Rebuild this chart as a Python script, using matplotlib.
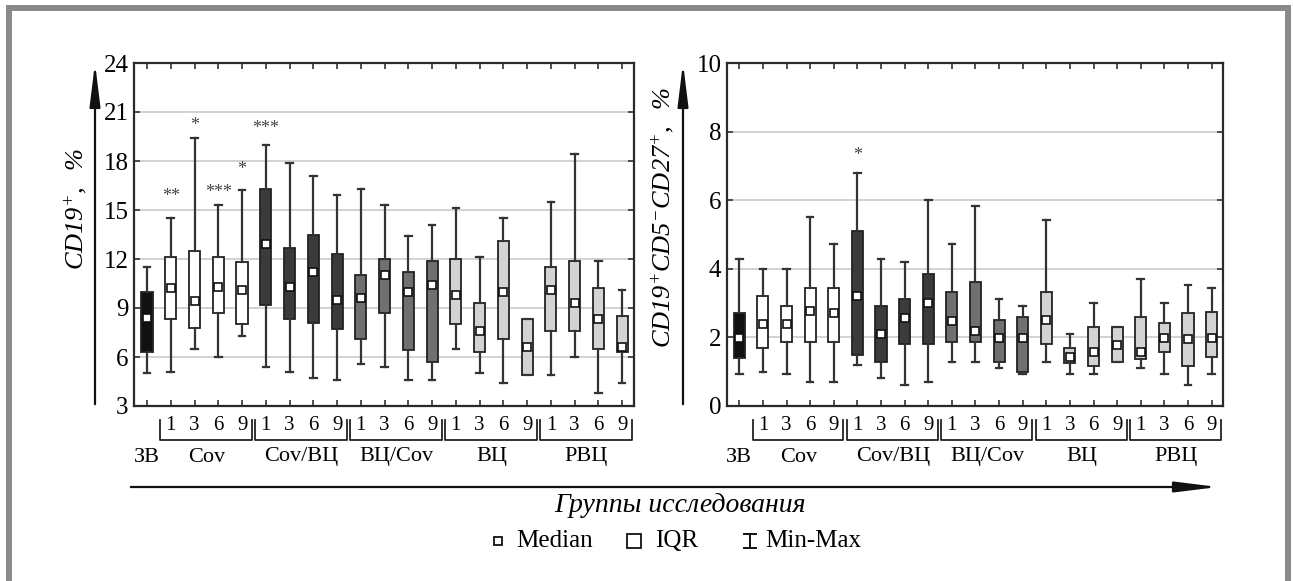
import matplotlib
matplotlib.use("Agg")
import matplotlib.pyplot as plt
from matplotlib.lines import Line2D
from matplotlib.patches import FancyArrowPatch
from matplotlib.transforms import blended_transform_factory

plt.rcParams['font.family'] = ['Liberation Serif', 'DejaVu Serif']
plt.rcParams['mathtext.fontset'] = 'custom'
plt.rcParams['mathtext.rm'] = 'Liberation Serif:italic'
plt.rcParams['mathtext.it'] = 'Liberation Serif:italic'

# ---------------- data ----------------
groups = ['ЗВ', 'Cov', 'Cov/ВЦ', 'ВЦ/Cov', 'ВЦ', 'РВЦ']
months = ['1', '3', '6', '9']
group_colors = ['#111111', '#ffffff', '#3b3b3b', '#707070', '#d3d3d3', '#d3d3d3']

# Left panel: CD19+, %
l_min = [5.0, 5.1, 6.5, 6.0, 7.3, 5.4, 5.1, 4.7, 4.6, 5.6, 5.4, 4.6, 4.6, 6.5, 5.0, 4.4, 4.9, 4.9, 6.0, 3.8, 4.4]
l_q1 = [6.3, 8.3, 7.8, 8.7, 8.0, 9.2, 8.3, 8.1, 7.7, 7.1, 8.7, 6.4, 5.7, 8.0, 6.3, 7.1, 4.9, 7.6, 7.6, 6.5, 6.3]
l_med = [8.4, 10.2, 9.4, 10.3, 10.1, 12.9, 10.3, 11.2, 9.5, 9.6, 11.0, 10.0, 10.4, 9.8, 7.6, 10.0, 6.6, 10.1, 9.3, 8.3, 6.6]
l_q3 = [10.0, 12.1, 12.5, 12.1, 11.8, 16.3, 12.7, 13.5, 12.3, 11.0, 12.0, 11.2, 11.9, 12.0, 9.3, 13.1, 8.3, 11.5, 11.9, 10.2, 8.5]
l_max = [11.5, 14.5, 19.4, 15.3, 16.2, 19.0, 17.9, 17.1, 15.9, 16.3, 15.3, 13.4, 14.1, 15.1, 12.1, 14.5, 8.3, 15.5, 18.4, 11.9, 10.1]
l_stars = {1: '**', 2: '*', 3: '***', 4: '*', 5: '***'}
l_star_y = {1: 15.8, 2: 20.2, 3: 16.1, 4: 17.5, 5: 20.0}

# Right panel: CD19+CD5-CD27+, %
r_min = [0.92, 1.0, 0.92, 0.71, 0.71, 1.19, 0.81, 0.61, 0.71, 1.29, 1.27, 1.12, 0.92, 1.27, 0.92, 0.92, 1.27, 1.12, 0.92, 0.61, 0.92]
r_q1 = [1.39, 1.7, 1.87, 1.87, 1.87, 1.49, 1.27, 1.8, 1.8, 1.87, 1.87, 1.27, 1.0, 1.8, 1.24, 1.17, 1.27, 1.37, 1.58, 1.17, 1.44]
r_med = [1.99, 2.38, 2.38, 2.78, 2.72, 3.2, 2.09, 2.58, 2.99, 2.49, 2.18, 1.99, 1.99, 2.52, 1.44, 1.56, 1.78, 1.56, 1.99, 1.94, 1.99]
r_q3 = [2.7, 3.21, 2.92, 3.43, 3.43, 5.1, 2.92, 3.12, 3.86, 3.31, 3.62, 2.5, 2.6, 3.31, 1.7, 2.29, 2.29, 2.6, 2.43, 2.7, 2.73]
r_max = [4.3, 4.0, 4.0, 5.51, 4.71, 6.8, 4.3, 4.2, 6.02, 4.71, 5.83, 3.12, 2.91, 5.42, 2.1, 3.01, 2.29, 3.69, 3.01, 3.52, 3.43]
r_stars = {5: '*'}
r_star_y = {5: 7.3}

l_yticks = [3, 6, 9, 12, 15, 18, 21, 24]
r_yticks = [0, 2, 4, 6, 8, 10]
l_ylabel = r'$\mathit{CD19}^{+}\mathit{,\ \ \%}$'
r_ylabel = r'$\mathit{CD19}^{+}\mathit{CD5}^{-}\mathit{CD27}^{+}\mathit{,\ \ \%}$'
xtitle = 'Группы исследования'
legend_labels = ['Median', 'IQR', 'Min-Max']

# ---------------- figure ----------------
W, H = 1293, 581
fig = plt.figure(figsize=(W / 100, H / 100), dpi=100)
fig.patch.set_facecolor('white')


def fx(px):
    return px / W


def fy(py):
    return 1 - py / H


box_colors = [group_colors[0]] + [c for c in group_colors[1:] for _ in months]
tick_labels = [''] + [m for _ in groups[1:] for m in months]


def panel(ax, mins, q1s, meds, q3s, maxs, yticks, stars, star_y, xlim):
    n = len(meds)
    stats = []
    for i in range(n):
        stats.append(dict(whislo=mins[i], q1=q1s[i], med=meds[i], q3=q3s[i],
                          whishi=maxs[i], mean=meds[i], fliers=[]))
    pos = list(range(n))
    bp = ax.bxp(stats, positions=pos, widths=0.47, capwidths=0.28,
                patch_artist=True, showmeans=True, showfliers=False,
                boxprops=dict(edgecolor='#222222', linewidth=1.3),
                whiskerprops=dict(color='#333333', linewidth=1.6),
                capprops=dict(color='#333333', linewidth=1.6),
                medianprops=dict(linewidth=0),
                meanprops=dict(marker='s', markerfacecolor='white',
                               markeredgecolor='#111111', markersize=5.5,
                               markeredgewidth=1.2))
    for patch, c in zip(bp['boxes'], box_colors):
        patch.set_facecolor(c)
    for i, s in stars.items():
        ax.text(pos[i], star_y[i], s, ha='center', va='center',
                fontsize=13, color='#444444')
    ax.set_xlim(*xlim)
    ax.set_ylim(yticks[0], yticks[-1])
    ax.set_yticks(yticks)
    ax.set_xticks(pos)
    ax.set_xticklabels(tick_labels, fontsize=15)
    ax.tick_params(axis='y', labelsize=18, direction='in', left=True,
                   right=True, length=4, width=1.2, pad=4, color='#333333')
    ax.tick_params(axis='x', direction='in', bottom=True, top=True,
                   length=4, width=1.2, pad=7, color='#333333')
    ax.yaxis.grid(True, color='#cfcfcf', linewidth=1.3)
    ax.set_axisbelow(True)
    for sp in ax.spines.values():
        sp.set_color('#2a2a2a')
        sp.set_linewidth(1.6)
    tr = blended_transform_factory(ax.transData, fig.transFigure)
    y_top, y_bot, y_lab = fy(420), fy(440), fy(457)
    ax.text(0, y_lab, groups[0], transform=tr, ha='center', va='center',
            fontsize=16)
    for g in range(1, len(groups)):
        a = 1 + (g - 1) * 4
        b = a + 3
        xa, xb = a - 0.44, b + 0.4
        ln = Line2D([xa, xa, xb, xb], [y_top, y_bot, y_bot, y_top],
                    transform=tr, color='#222222', linewidth=1.3,
                    clip_on=False)
        ax.add_line(ln)
        ax.text((a + b) / 2, y_lab, groups[g], transform=tr, ha='center',
                va='center', fontsize=16)


ax1 = fig.add_axes([fx(134), fy(406), fx(634) - fx(134), fy(63) - fy(406)])
panel(ax1, l_min, l_q1, l_med, l_q3, l_max, l_yticks, l_stars, l_star_y,
      (-0.55, 20.5))
ax2 = fig.add_axes([fx(727), fy(406), fx(1223) - fx(727), fy(63) - fy(406)])
panel(ax2, r_min, r_q1, r_med, r_q3, r_max, r_yticks, r_stars, r_star_y,
      (-0.52, 20.48))

astyle = '-|>,head_length=1.3,head_width=0.16'
for xa in (95, 683):
    fig.add_artist(FancyArrowPatch((fx(xa), fy(407)), (fx(xa), fy(60)),
                                   transform=fig.transFigure,
                                   arrowstyle=astyle, mutation_scale=20,
                                   linewidth=1.6, color='#111111'))
fig.text(fx(76), fy(209), l_ylabel, rotation=90, ha='center', va='center',
         fontsize=19)
fig.text(fx(663), fy(217), r_ylabel, rotation=90, ha='center', va='center',
         fontsize=19)

fig.add_artist(FancyArrowPatch((fx(128), fy(487)), (fx(1221), fy(487)),
                               transform=fig.transFigure,
                               arrowstyle=astyle, mutation_scale=20,
                               linewidth=1.6, color='#111111'))
fig.text(fx(680), fy(505), xtitle, ha='center', va='center', fontsize=20,
         style='italic')

ly = fy(541)
fig.add_artist(Line2D([fx(498)], [ly], marker='s', markersize=5.5,
                      markerfacecolor='white', markeredgecolor='#111111',
                      markeredgewidth=1.3, transform=fig.transFigure))
fig.text(fx(516), ly, legend_labels[0], ha='left', va='center', fontsize=18)
fig.add_artist(Line2D([fx(634)], [ly], marker='s', markersize=10,
                      markerfacecolor='white', markeredgecolor='#111111',
                      markeredgewidth=1.3, transform=fig.transFigure))
fig.text(fx(655), ly, legend_labels[1], ha='left', va='center', fontsize=18)
for xs, ys in (([750, 750], [534, 548]), ([744, 756], [534, 534]),
               ([744, 756], [548, 548])):
    fig.add_artist(Line2D([fx(v) for v in xs], [fy(v) for v in ys],
                          color='#111111', linewidth=1.4,
                          transform=fig.transFigure))
fig.text(fx(765), ly, legend_labels[2], ha='left', va='center', fontsize=18)

fc = '#8a8a8a'
fig.add_artist(Line2D([fx(8.5), fx(8.5)], [0, fy(8)], color=fc,
                      linewidth=4.3, transform=fig.transFigure,
                      solid_capstyle='projecting'))
fig.add_artist(Line2D([fx(8.5), fx(1288)], [fy(8), fy(8)], color=fc,
                      linewidth=4.3, transform=fig.transFigure,
                      solid_capstyle='projecting'))
fig.add_artist(Line2D([fx(1288), fx(1288)], [0, fy(8)], color=fc,
                      linewidth=4.3, transform=fig.transFigure,
                      solid_capstyle='projecting'))

fig.savefig('out.png', dpi=100, facecolor='white')
